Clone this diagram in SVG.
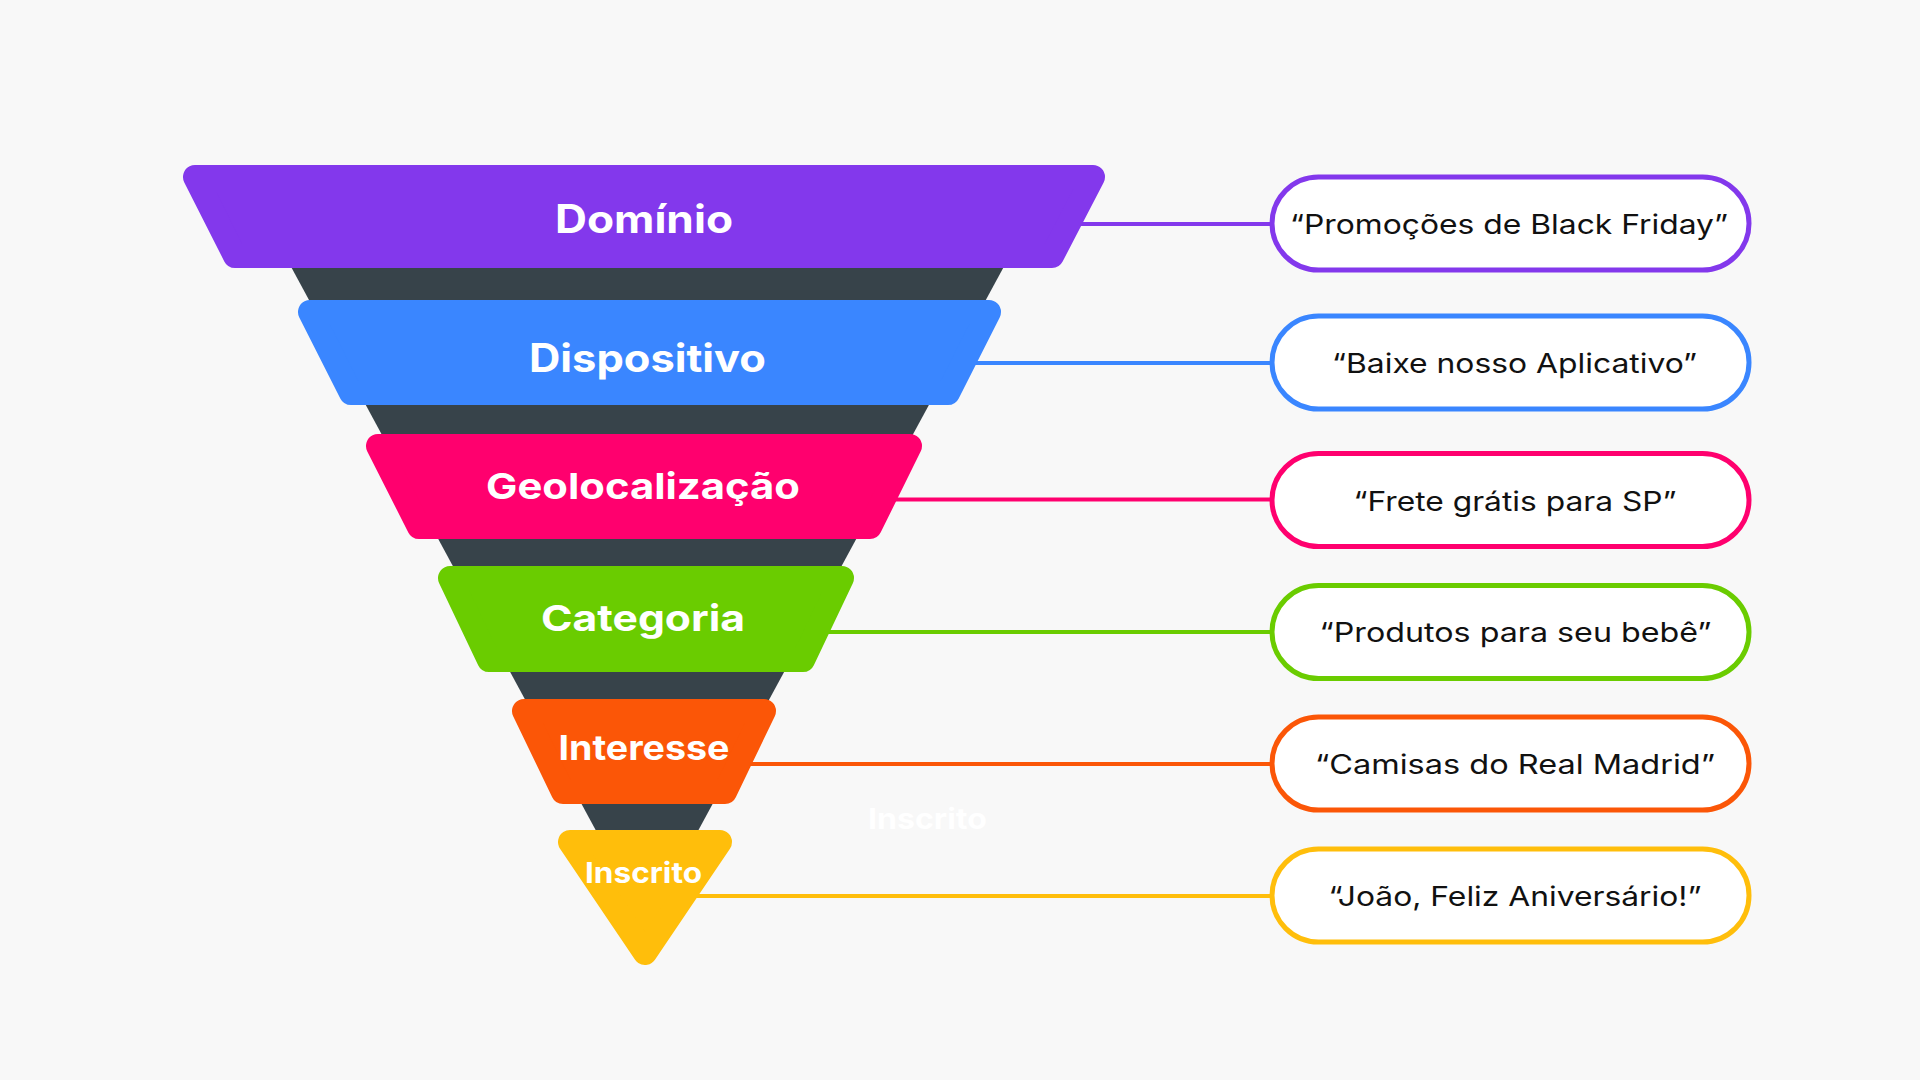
<svg xmlns="http://www.w3.org/2000/svg" width="1920" height="1080" viewBox="0 0 1920 1080">
<style>
.band{stroke-width:24;stroke-linejoin:round}
.lbl{font-family:Inter,"Noto Sans","Liberation Sans",sans-serif;font-weight:700;fill:#ffffff;text-anchor:middle}
.pill{fill:#ffffff;stroke-width:5}
.ptxt{font-family:Inter,"Noto Sans","Liberation Sans",sans-serif;font-weight:400;font-size:27px;fill:#111111;text-anchor:middle}
.con{stroke-width:4;fill:none}
</style>
<rect x="0" y="0" width="1920" height="1080" fill="#f8f8f8"/>
<text class="lbl" x="927.5" y="829" font-size="29" textLength="119" lengthAdjust="spacingAndGlyphs">Inscrito</text>
<g id="funnel-base">
<polygon points="236,165 1059,165 647,925" fill="#37434a"/>
</g>
<g id="connectors">
<line class="con" x1="640" y1="224" x2="1272" y2="224" stroke="#8338ec"/>
<line class="con" x1="640" y1="363" x2="1272" y2="363" stroke="#3a86ff"/>
<line class="con" x1="640" y1="499.5" x2="1272" y2="499.5" stroke="#ff006e"/>
<line class="con" x1="640" y1="632" x2="1272" y2="632" stroke="#6acc00"/>
<line class="con" x1="640" y1="764" x2="1272" y2="764" stroke="#fb5607"/>
<line class="con" x1="640" y1="896" x2="1272" y2="896" stroke="#ffbe0b"/>
</g>
<g id="node-dominio">
<polygon class="band" points="195,177 1093,177 1052,256 235,256" fill="#8338ec" stroke="#8338ec"/>
<text class="lbl" x="644" y="232.7" font-size="39" textLength="178" lengthAdjust="spacingAndGlyphs">Domínio</text>
</g>
<g id="node-dispositivo">
<polygon class="band" points="310,312 989,312 948,393 351,393" fill="#3a86ff" stroke="#3a86ff"/>
<text class="lbl" x="647.5" y="371.7" font-size="39" textLength="237" lengthAdjust="spacingAndGlyphs">Dispositivo</text>
</g>
<g id="node-geolocalizacao">
<polygon class="band" points="378,446 910,446 870,527 419,527" fill="#ff006e" stroke="#ff006e"/>
<text class="lbl" x="643" y="499" font-size="36" textLength="314" lengthAdjust="spacingAndGlyphs">Geolocalização</text>
</g>
<g id="node-categoria">
<polygon class="band" points="450,578 842,578 803,660 489,660" fill="#6acc00" stroke="#6acc00"/>
<text class="lbl" x="643" y="631" font-size="36" textLength="204" lengthAdjust="spacingAndGlyphs">Categoria</text>
</g>
<g id="node-interesse">
<polygon class="band" points="524,711 764,711 725,792 563,792" fill="#fb5607" stroke="#fb5607"/>
<text class="lbl" x="644" y="760" font-size="34" textLength="171" lengthAdjust="spacingAndGlyphs">Interesse</text>
</g>
<g id="node-inscrito">
<polygon class="band" points="570,842 720,842 645,953" fill="#ffbe0b" stroke="#ffbe0b"/>
<text class="lbl" x="643.5" y="883" font-size="29" textLength="117" lengthAdjust="spacingAndGlyphs">Inscrito</text>
</g>
<g id="pill-1">
<rect class="pill" x="1272" y="177" width="477" height="93" rx="46.5" stroke="#8338ec"/>
<text class="ptxt" x="1509" y="234" textLength="438" lengthAdjust="spacingAndGlyphs">“Promoções de Black Friday”</text>
</g>
<g id="pill-2">
<rect class="pill" x="1272" y="316" width="477" height="93" rx="46.5" stroke="#3a86ff"/>
<text class="ptxt" x="1514.5" y="373" textLength="365" lengthAdjust="spacingAndGlyphs">“Baixe nosso Aplicativo”</text>
</g>
<g id="pill-3">
<rect class="pill" x="1272" y="453.5" width="477" height="93" rx="46.5" stroke="#ff006e"/>
<text class="ptxt" x="1515" y="510.7" textLength="323" lengthAdjust="spacingAndGlyphs">“Frete grátis para SP”</text>
</g>
<g id="pill-4">
<rect class="pill" x="1272" y="585.5" width="477" height="93" rx="46.5" stroke="#6acc00"/>
<text class="ptxt" x="1515.5" y="642.3" textLength="392" lengthAdjust="spacingAndGlyphs">“Produtos para seu bebê”</text>
</g>
<g id="pill-5">
<rect class="pill" x="1272" y="717" width="477" height="93" rx="46.5" stroke="#fb5607"/>
<text class="ptxt" x="1515" y="774" textLength="400" lengthAdjust="spacingAndGlyphs">“Camisas do Real Madrid”</text>
</g>
<g id="pill-6">
<rect class="pill" x="1272" y="849" width="477" height="93" rx="46.5" stroke="#ffbe0b"/>
<text class="ptxt" x="1515" y="905.7" textLength="373" lengthAdjust="spacingAndGlyphs">“João, Feliz Aniversário!”</text>
</g>
</svg>
